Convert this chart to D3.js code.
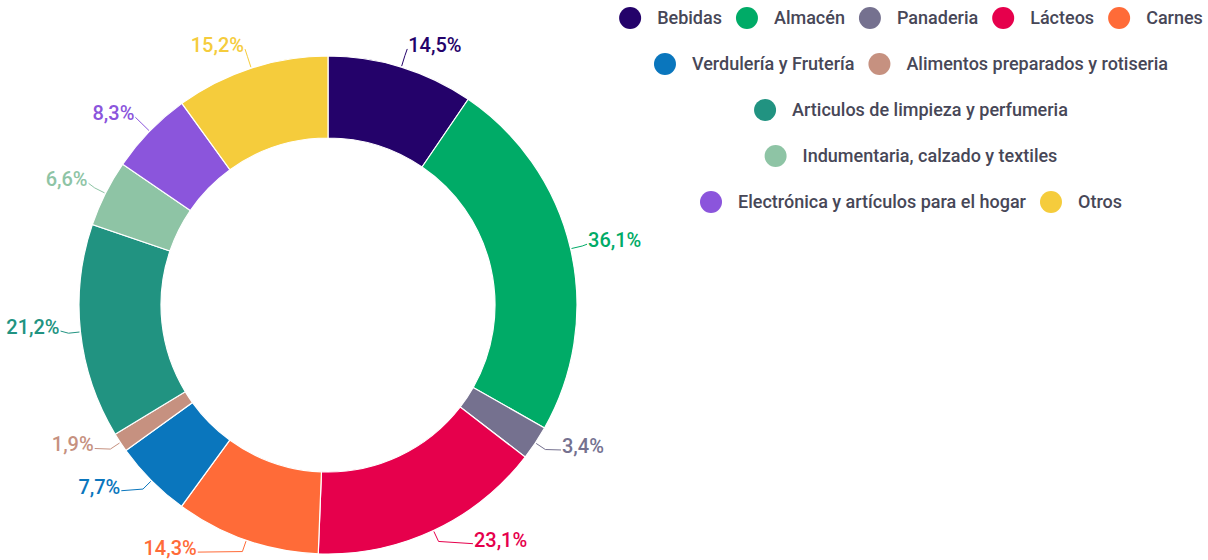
<!DOCTYPE html>
<html><head><meta charset="utf-8">
<script src="https://cdn.jsdelivr.net/npm/d3@7"></script>
<style>
html,body{margin:0;padding:0;background:#fff;}
svg{display:block;font-family:Roboto, "Noto Sans", sans-serif;}
</style></head>
<body>
<svg id="chart" width="1208" height="560"></svg>
<script>
const categories = ["Bebidas","Almacén","Panaderia","Lácteos","Carnes","Verdulería y Frutería","Alimentos preparados y rotiseria","Articulos de limpieza y perfumeria","Indumentaria, calzado y textiles","Electrónica y artículos para el hogar","Otros"];
const values = [14.5, 36.1, 3.4, 23.1, 14.3, 7.7, 1.9, 21.2, 6.6, 8.3, 15.2];
const colors = ["#24026a","#00ab67","#75718f","#e6004c","#ff6b38","#0a76bd","#c69180","#219381","#8ec4a5","#8b55dc","#f5cc3c"];

// layout
const W = 1208, H = 560;
const cx = 328, cy = 305, R = 249, r = 167;
// label nudges (layout only) to mimic the original label-collision placement
const labelNudge = [[0,-3],[-3,-4],[9,-8],[31,-9],[-42,-11],[-16,-8],[-9,-9],[0,-7],[1,-5],[0,-4],[0,-4]];

const fmt = v => d3.format(".1f")(v).replace(".", ",") + "%";
const svg = d3.select("#chart");
const data = categories.map((c,i)=>({name:c, value:values[i], color:colors[i], i}));

const pie = d3.pie().sort(null).value(d=>d.value);
const arcs = pie(data);
const arc = d3.arc().innerRadius(r).outerRadius(R);
const g = svg.append("g").attr("transform", `translate(${cx},${cy})`);
g.selectAll("path.slice").data(arcs).join("path")
  .attr("class","slice")
  .attr("d", arc)
  .attr("fill", d=>d.data.color)
  .attr("stroke", "#fff").attr("stroke-width", 1.2);

const pt = (a, rad) => [Math.sin(a)*rad, -Math.cos(a)*rad];
arcs.forEach((d,i)=>{
  const a = (d.startAngle + d.endAngle)/2;
  const p0 = pt(a, R+1);
  const p1 = pt(a, R+12);
  const base = pt(a, R+20);
  const lx = base[0] + labelNudge[i][0], ly = base[1] + labelNudge[i][1];
  const right = Math.sin(a) >= 0;
  g.append("path")
    .attr("d", d3.line()([p0, p1, [lx, ly+4]]))
    .attr("fill","none").attr("stroke", d.data.color).attr("stroke-width",1);
  g.append("text")
    .attr("x", lx + (right? 1 : -1))
    .attr("y", ly)
    .attr("dy", "0.35em")
    .attr("text-anchor", right ? "start" : "end")
    .attr("font-size", 20).attr("font-weight", 500)
    .attr("fill", d.data.color)
    .attr("stroke","#fff").attr("stroke-width",0.6).attr("paint-order","stroke")
    .text(fmt(d.data.value));
});

// legend (flow layout, centered)
const legendCenter = 911, legendMaxW = 598, rowTop = 18, rowGap = 46;
const sw = 11, textOff = 38, gap = 14;
const lg = svg.append("g");
const items = data.map(d=>{
  const t = lg.append("text").attr("font-size",18).attr("fill","#474757").attr("font-weight",500)
    .attr("dy","0.35em").text(d.name);
  return {d, t, w: textOff + t.node().getComputedTextLength()};
});
const rows = [];
let cur = [], curW = 0;
items.forEach(it=>{
  const add = (cur.length? gap:0) + it.w;
  if (cur.length && curW + add > legendMaxW) { rows.push({items:cur, w:curW}); cur=[]; curW=0; }
  curW += (cur.length? gap:0) + it.w; cur.push(it);
});
if (cur.length) rows.push({items:cur, w:curW});
rows.forEach((row, ri)=>{
  let x = legendCenter - row.w/2;
  const y = rowTop + ri*rowGap;
  row.items.forEach(it=>{
    lg.append("circle").attr("cx", x+sw).attr("cy", y).attr("r", sw).attr("fill", it.d.color);
    it.t.attr("x", x+textOff).attr("y", y);
    x += it.w + gap;
  });
});
</script>
</body></html>
